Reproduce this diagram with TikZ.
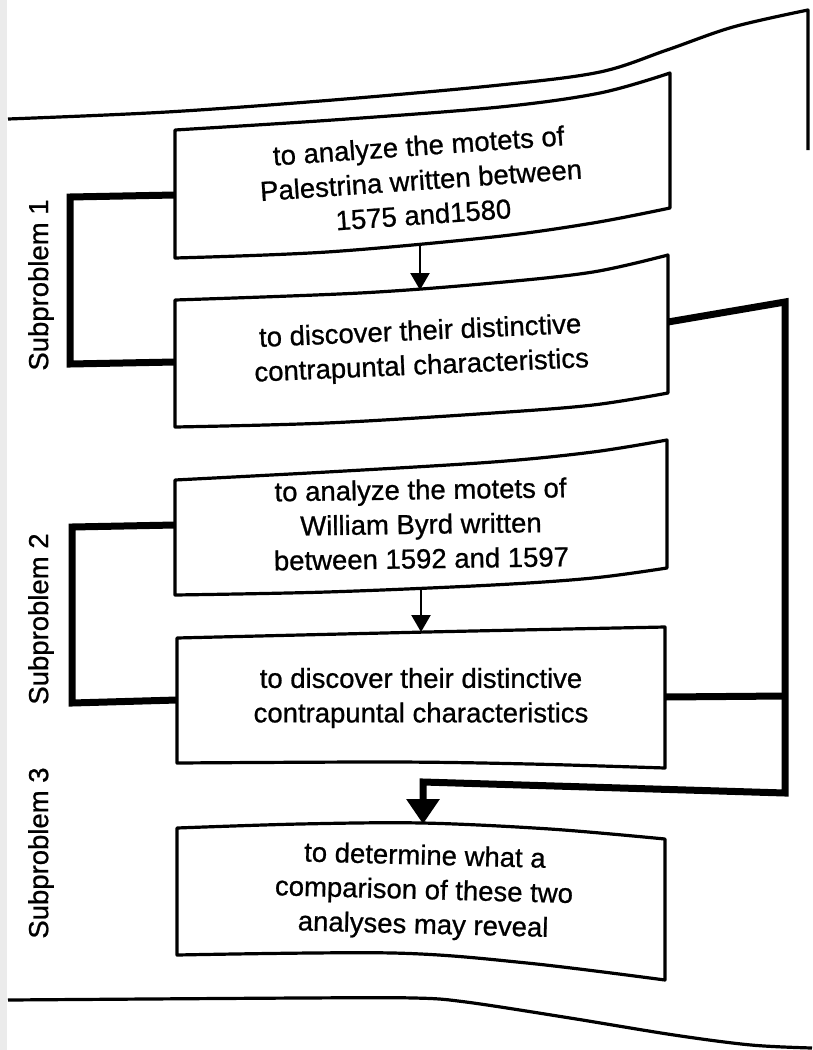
\documentclass[tikz,border=0pt]{standalone}
\usepackage{fontspec}
\setmainfont{Liberation Sans}
\newfontfamily\scanfont[FakeBold=0.8]{Liberation Sans}
\usetikzlibrary{arrows.meta}
\begin{document}
\begin{tikzpicture}[x=1pt,y=-1pt,
  boxline/.style={line width=3.2pt, line join=round},
  pageline/.style={line width=3.2pt, line join=round},
  thickconn/.style={line width=7pt, line join=miter},
  smallarrow/.style={line width=2.4pt, -{Triangle[width=19pt,length=17pt]}},
  bigarrow/.style={line width=7pt, line join=miter, -{Triangle[width=32pt,length=25pt]}},
  txt/.style={font=\scanfont\fontsize{27.5}{34.5}\selectfont, align=center, inner sep=0pt},
  sublabel/.style={font=\scanfont\fontsize{27.5}{33}\selectfont, rotate=90, inner sep=0pt}]

\useasboundingbox (0,0) rectangle (812,1050);
\fill[white] (0,0) rectangle (812,1050);
\fill[black!8] (0,0) rectangle (7,1050);

% page borders
\draw[pageline] plot[smooth, tension=0.55] coordinates {(8,119) (167,112) (333,100) (500,85) (600,72) (667,50) (733,27) (808,10)} -- (808,150);
\draw[pageline] plot[smooth, tension=0.55] coordinates {(8,1000) (300,998) (414,998) (466,1002) (570,1018) (674,1035) (751,1045) (812,1048)};

% box outlines
\draw[boxline] plot[smooth, tension=0.55] coordinates {(175,130) (333,120) (500,107) (600,93) (670,73)}
  -- plot[smooth, tension=0.55] coordinates {(670,208) (593,223) (493,237) (327,252) (175,258)} -- cycle;
\draw[boxline] plot[smooth, tension=0.55] coordinates {(175,300) (360,293) (493,283) (593,272) (668,255)}
  -- plot[smooth, tension=0.55] coordinates {(668,393) (593,405) (493,413) (327,423) (175,427)} -- cycle;
\draw[boxline] plot[smooth, tension=0.55] coordinates {(175,480) (327,472) (493,462) (593,452) (667,440)}
  -- plot[smooth, tension=0.55] coordinates {(667,568) (593,578) (493,585) (327,592) (175,595)} -- cycle;
\draw[boxline] plot[smooth, tension=0.55] coordinates {(177,638) (427,632) (665,627)}
  -- plot[smooth, tension=0.55] coordinates {(665,768) (530,764) (393,762) (177,763)} -- cycle;
\draw[boxline] plot[smooth, tension=0.55] coordinates {(177,828) (300,824) (422,823) (550,829) (665,839)}
  -- plot[smooth, tension=0.55] coordinates {(665,980) (527,963) (393,953) (177,955)} -- cycle;

% texts
\node[txt, rotate=4] (t1) at (421,180) {to analyze the motets of\\Palestrina written between\\1575 and1580};
\node[txt, rotate=2.5] (t2) at (421,350) {to discover their distinctive\\contrapuntal characteristics};
\node[txt, rotate=0.8] (t3) at (421,524) {to analyze the motets of\\William Byrd written\\between 1592 and 1597};
\node[txt] (t4) at (421,698) {to discover their distinctive\\contrapuntal characteristics};
\node[txt, rotate=-1.5] (t5) at (424,892) {to determine what a\\comparison of these two\\analyses may reveal};

\node[sublabel] (sp1) at (41,285) {Subproblem 1};
\node[sublabel] (sp2) at (41,619) {Subproblem 2};
\node[sublabel] (sp3) at (41,853) {Subproblem 3};

% connector points
\coordinate (b1bot) at (420,246);
\coordinate (b2top) at (420,290);
\coordinate (b3bot) at (421,590);
\coordinate (b4top) at (421,632);
\coordinate (b1L) at (175,195);
\coordinate (s1a) at (70,197);
\coordinate (s1b) at (70,364);
\coordinate (b2L) at (175,362);
\coordinate (b3L) at (175,525);
\coordinate (s2a) at (72,527);
\coordinate (s2b) at (72,703);
\coordinate (b4L) at (177,700);
\coordinate (b2R) at (668,322);
\coordinate (r1) at (785,302);
\coordinate (r2) at (785,793);
\coordinate (r3) at (423,782);
\coordinate (b5top) at (423,824);
\coordinate (b4R) at (665,697);
\coordinate (r4) at (785,696);

\draw[smallarrow] (b1bot) -- (b2top);
\draw[smallarrow] (b3bot) -- (b4top);
\draw[thickconn] (b1L) -- (s1a) -- (s1b) -- (b2L);
\draw[thickconn] (b3L) -- (s2a) -- (s2b) -- (b4L);
\draw[thickconn] (b4R) -- (r4);
\draw[bigarrow] (b2R) -- (r1) -- (r2) -- (r3) -- (b5top);
\end{tikzpicture}
\end{document}
